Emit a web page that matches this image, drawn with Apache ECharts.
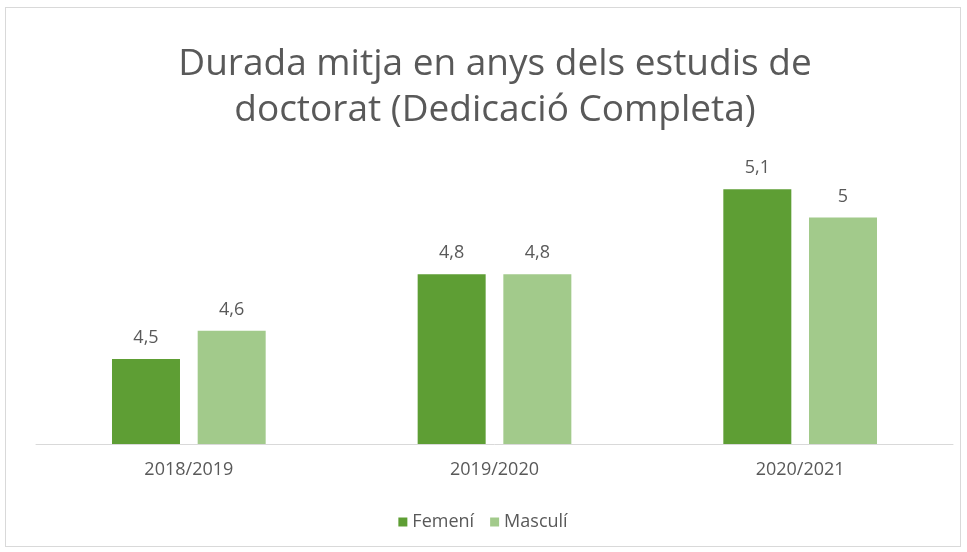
<!DOCTYPE html>
<html>
<head>
<meta charset="utf-8">
<script src="https://cdn.jsdelivr.net/npm/echarts@6/dist/echarts.min.js"></script>
<style>
  html, body { margin: 0; padding: 0; background: #fff; }
  #chart { position: absolute; left: 5px; top: 7px; width: 956px; height: 540px; border: 1px solid #d9d9d9; box-sizing: border-box; }
</style>
</head>
<body>
<div id="chart"></div>
<script>
var categories = ['2018/2019', '2019/2020', '2020/2021'];
var femeni = [4.5, 4.8, 5.1];
var masculi = [4.6, 4.8, 5.0];

var myChart = echarts.init(document.getElementById('chart'));
var fmt = function (p) { return String(p.value).replace('.', ','); };
myChart.setOption({
  animation: false,
  title: {
    text: 'Durada mitja en anys dels estudis de\ndoctorat (Dedicació Completa)',
    left: 484,
    textAlign: 'center',
    top: 28,
    textStyle: { fontFamily: 'Open Sans', fontSize: 37, fontWeight: 'normal', color: '#595959', lineHeight: 46 }
  },
  legend: {
    data: ['Femení', 'Masculí'],
    bottom: 10,
    left: 'center',
    itemWidth: 9,
    itemHeight: 9,
    itemGap: 16,
    icon: 'rect',
    textStyle: { fontFamily: 'Open Sans', fontSize: 18, color: '#595959' }
  },
  grid: { left: 30, right: 7, top: 153, bottom: 102 },
  xAxis: {
    type: 'category',
    data: categories,
    axisTick: { show: false },
    axisLine: { lineStyle: { color: '#d9d9d9' } },
    axisLabel: { fontFamily: 'Open Sans', fontSize: 18, color: '#595959', margin: 17 }
  },
  yAxis: {
    type: 'value',
    min: 4.2,
    max: 5.2,
    show: false,
    splitLine: { show: false }
  },
  series: [
    {
      name: 'Femení',
      type: 'bar',
      data: femeni,
      barWidth: 68,
      barGap: '26%',
      itemStyle: { color: '#5e9e34' },
      label: { show: true, position: 'top', distance: 12, formatter: fmt, fontFamily: 'Open Sans', fontSize: 18, color: '#595959' }
    },
    {
      name: 'Masculí',
      type: 'bar',
      data: masculi,
      barWidth: 68,
      barGap: '26%',
      itemStyle: { color: '#a2ca8b' },
      label: { show: true, position: 'top', distance: 12, formatter: fmt, fontFamily: 'Open Sans', fontSize: 18, color: '#595959' }
    }
  ]
});
</script>
</body>
</html>
